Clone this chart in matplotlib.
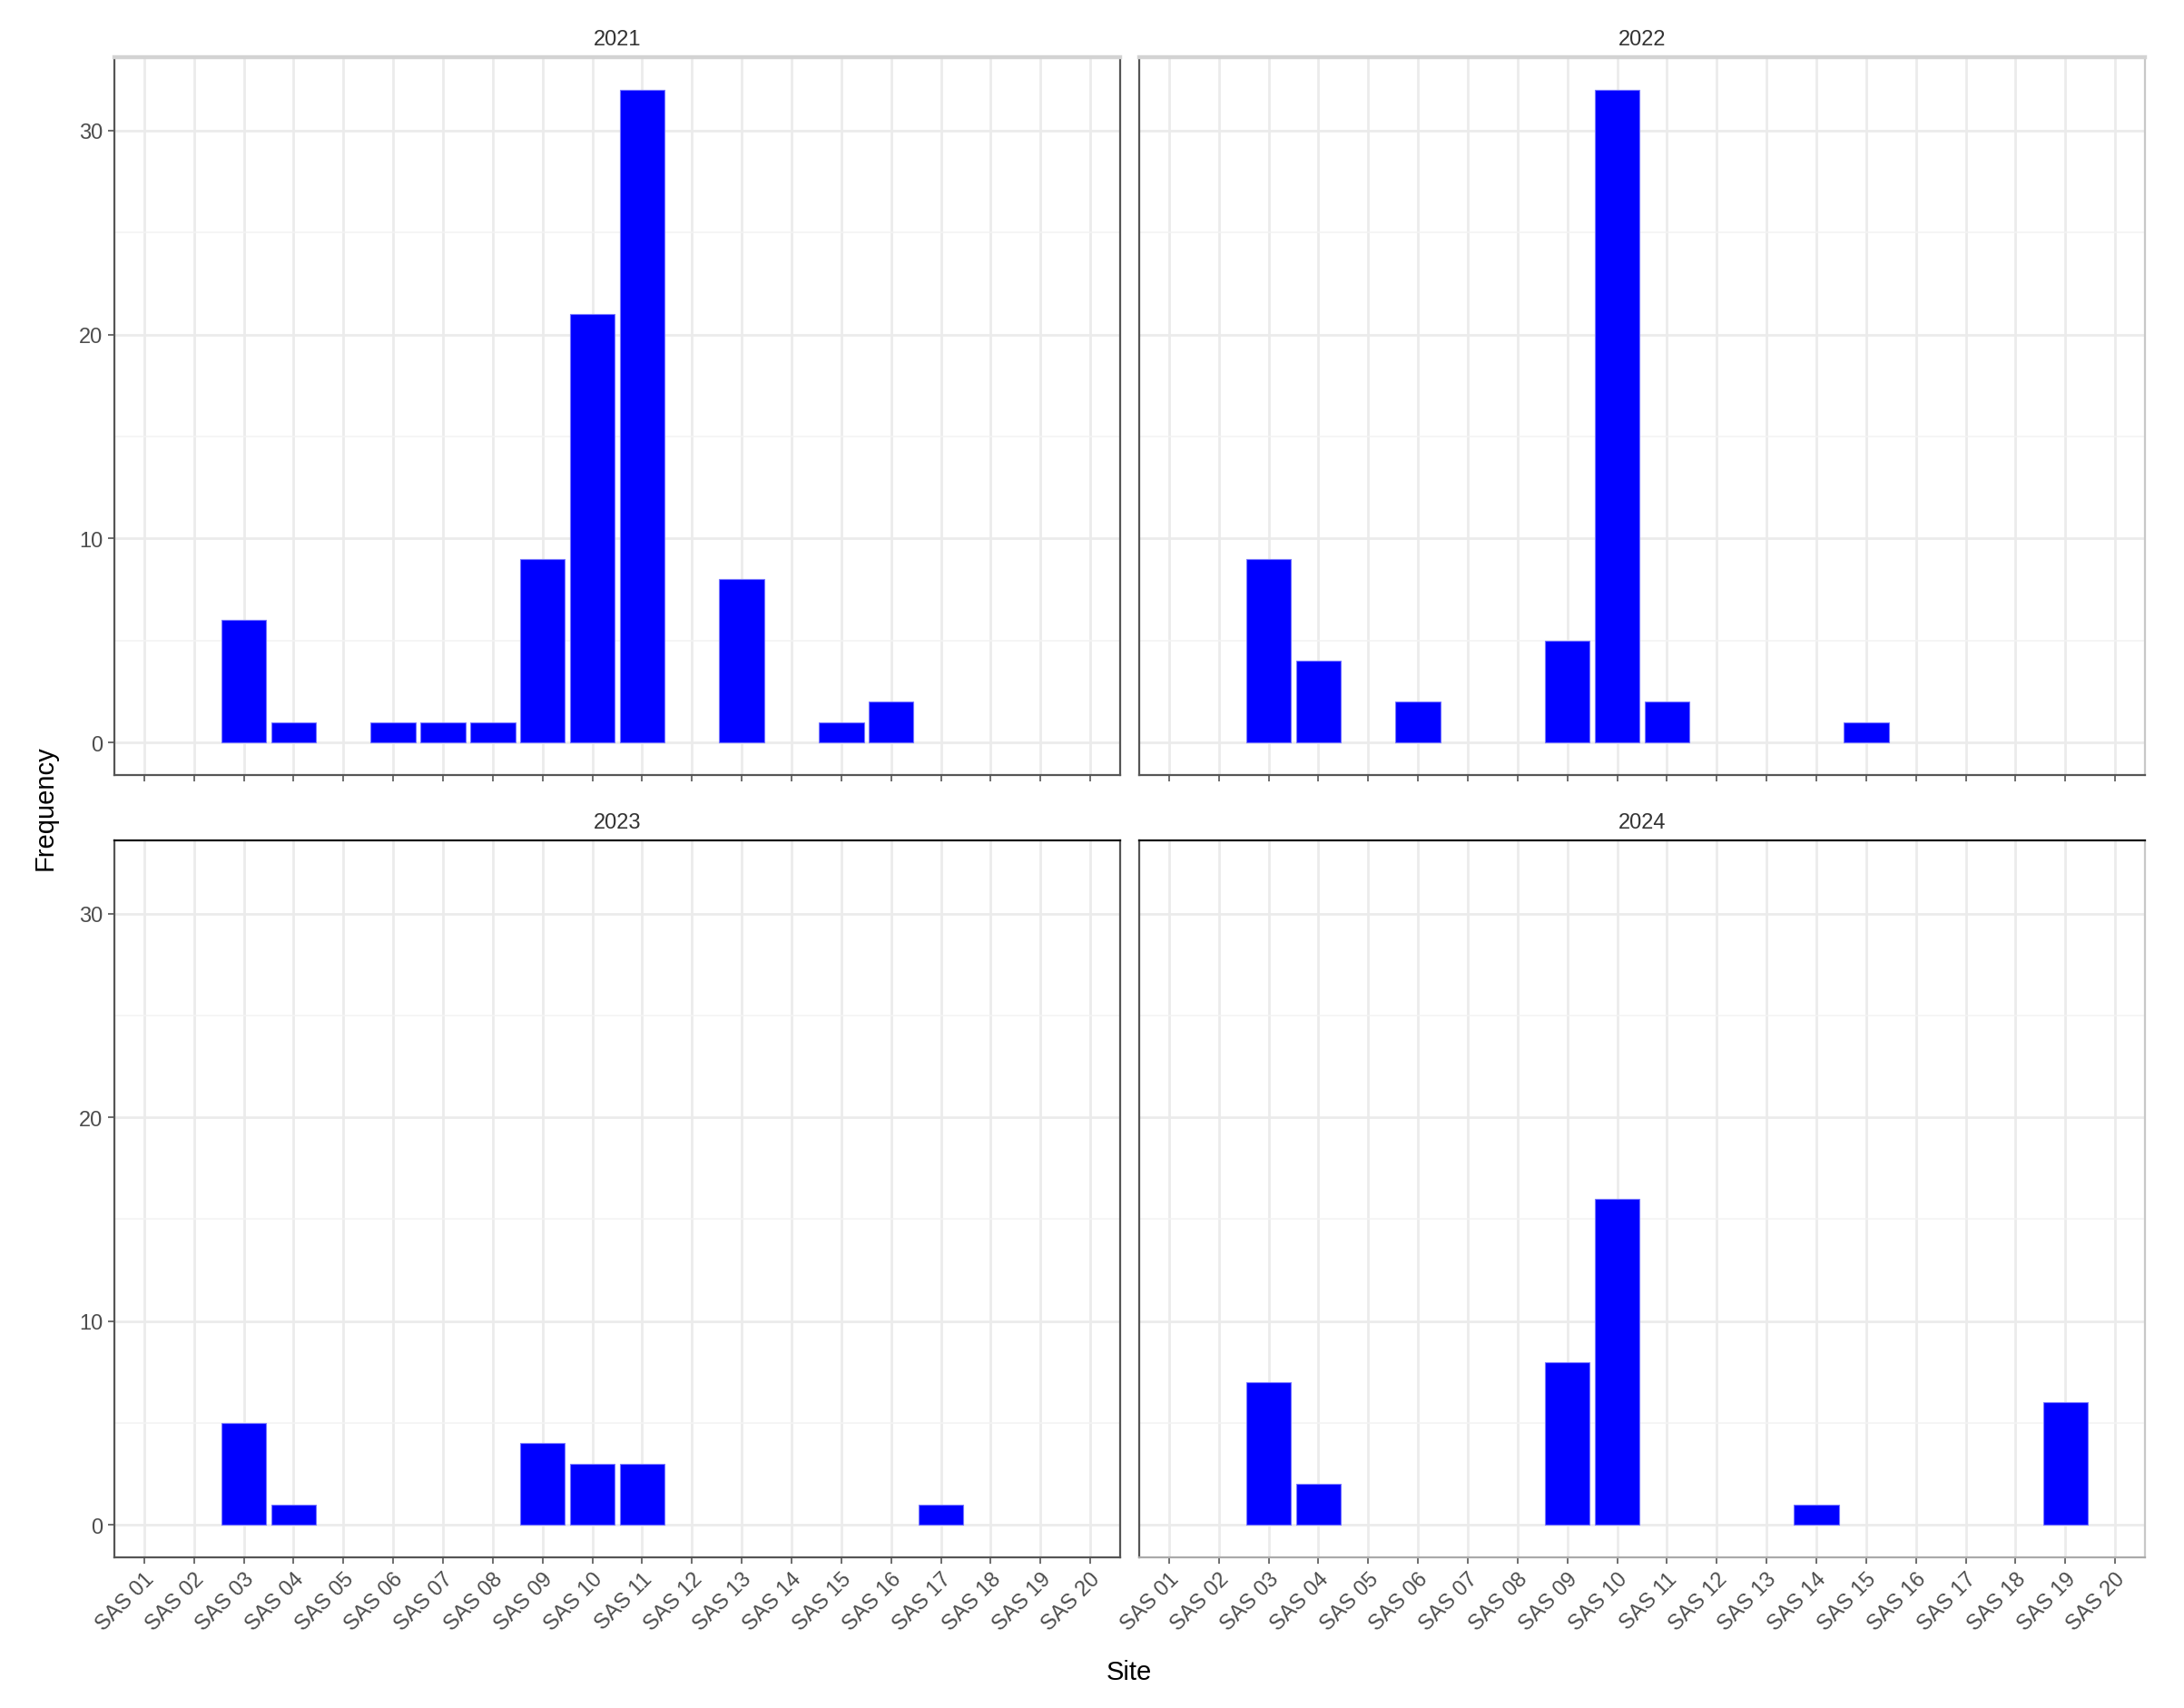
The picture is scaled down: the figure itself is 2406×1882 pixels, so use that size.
import matplotlib.pyplot as plt
import numpy as np

plt.rcParams['font.family'] = ['Liberation Sans', 'DejaVu Sans']

sites = ['SAS %02d' % i for i in range(1, 21)]
years = ['2021', '2022', '2023', '2024']

freq_2021 = [0, 0, 6, 1, 0, 1, 1, 1, 9, 21, 32, 0, 8, 0, 1, 2, 0, 0, 0, 0]
freq_2022 = [0, 0, 9, 4, 0, 2, 0, 0, 5, 32, 2, 0, 0, 0, 1, 0, 0, 0, 0, 0]
freq_2023 = [0, 0, 5, 1, 0, 0, 0, 0, 4, 3, 3, 0, 0, 0, 0, 0, 1, 0, 0, 0]
freq_2024 = [0, 0, 7, 2, 0, 0, 0, 0, 8, 16, 0, 0, 0, 1, 0, 0, 0, 0, 6, 0]
freqs = [freq_2021, freq_2022, freq_2023, freq_2024]

W, H = 2406, 1883
fig = plt.figure(figsize=(W / 200, H / 200), dpi=200)

# panel boxes in pixels (left, top, right, bottom)
boxes = [(126, 64, 1234, 855), (1255, 64, 2363, 855),
         (126, 927, 1234, 1717), (1255, 927, 2363, 1717)]

x = np.arange(1, 21)
for i, (year, f) in enumerate(zip(years, freqs)):
    l, t, r, b = boxes[i]
    ax = fig.add_axes([l / W, 1 - b / H, (r - l) / W, (b - t) / H])
    ax.set_axisbelow(True)
    f = np.array(f)
    nz = f > 0  # ggplot draws nothing for missing counts
    ax.bar(x[nz], f[nz], width=0.9, color='#0000ff', edgecolor='#7777ff', linewidth=0.4)
    ax.set_xlim(0.4, 20.6)
    ax.set_ylim(-1.6, 33.6)
    ax.set_yticks([0, 10, 20, 30])
    ax.set_yticks([5, 15, 25], minor=True)
    ax.set_xticks(x)
    ax.grid(which='major', color='#ebebeb', linewidth=1.0)
    ax.grid(which='minor', axis='y', color='#f3f3f3', linewidth=0.6)
    ax.tick_params(which='minor', length=0)
    ax.tick_params(which='major', length=2.5, width=0.6, color='#555555',
                   labelsize=8.5, labelcolor='#4d4d4d', pad=2)
    if i in (0, 2):
        ax.set_yticklabels(['0', '10', '20', '30'])
    else:
        ax.tick_params(axis='y', labelleft=False, length=0)
    if i in (2, 3):
        ax.set_xticklabels(sites, rotation=45, ha='right', rotation_mode='anchor')
    else:
        ax.tick_params(axis='x', labelbottom=False)
    ax.set_title(year, fontsize=8.5, color='#333333', pad=5)

    for s in ax.spines.values():
        s.set_linewidth(0.8)
        s.set_color('#555555')
    if i < 2:
        ax.spines['top'].set_color('#d3d3d3')
        ax.spines['top'].set_linewidth(1.6)
    else:
        ax.spines['top'].set_color('#111111')
    if i in (1, 3):
        ax.spines['right'].set_color('#c8c8c8')
    if i == 3:
        ax.spines['bottom'].set_color('#aaaaaa')

fig.text(50 / W, 1 - 890 / H, 'Frequency', rotation=90, ha='center', va='center', fontsize=10.5)
fig.text(1244 / W, 1 - 1843 / H, 'Site', ha='center', va='center', fontsize=10.5)

plt.savefig('out.png', dpi=200)
